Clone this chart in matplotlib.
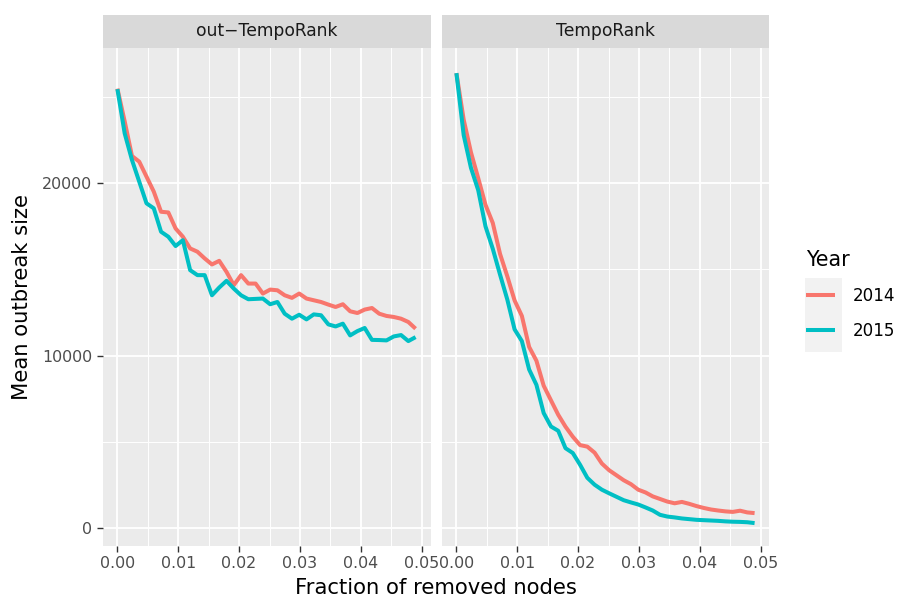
import matplotlib.pyplot as plt
import numpy as np
from matplotlib.lines import Line2D
from matplotlib.patches import Rectangle

plt.rcParams['font.family'] = ['DejaVu Sans']

# fraction of removed nodes (42 steps up to 0.049)
frac = np.linspace(0, 0.049, 42)

panels = ['out\u2212TempoRank', 'TempoRank']
years = ['2014', '2015']
colors = ['#F8766D', '#00BFC4']

out_2014 = [25500, 23600, 21590, 21260, 20390, 19520, 18350, 18310, 17380, 16900,
            16220, 16030, 15640, 15290, 15500, 14860, 14090, 14670, 14180, 14180,
            13600, 13830, 13790, 13500, 13350, 13600, 13310, 13210, 13110, 12960,
            12820, 12980, 12570, 12470, 12670, 12760, 12430, 12300, 12240, 12140,
            11950, 11560]
out_2015 = [25470, 22900, 21360, 20100, 18840, 18550, 17190, 16900, 16360, 16700,
            14960, 14670, 14670, 13500, 13950, 14340, 13890, 13500, 13270, 13290,
            13310, 12980, 13110, 12430, 12140, 12370, 12100, 12390, 12340, 11810,
            11690, 11850, 11170, 11420, 11600, 10910, 10900, 10880, 11110, 11190,
            10840, 11070]
tr_2014 = [26400, 23700, 21800, 20300, 18750, 17700, 15900, 14600, 13200, 12300,
           10500, 9700, 8250, 7400, 6560, 5870, 5290, 4800, 4710, 4360,
           3730, 3340, 3050, 2760, 2530, 2210, 2050, 1820, 1670, 1520,
           1420, 1500, 1390, 1260, 1150, 1060, 1000, 950, 920, 990,
           890, 850]
tr_2015 = [26400, 22800, 20900, 19600, 17500, 16200, 14700, 13250, 11520, 10840,
           9190, 8300, 6660, 5880, 5630, 4620, 4340, 3660, 2900, 2500,
           2210, 2000, 1800, 1600, 1470, 1350, 1180, 1000, 750, 650,
           600, 540, 500, 460, 440, 420, 400, 370, 350, 340,
           320, 270]

data = {panels[0]: [out_2014, out_2015], panels[1]: [tr_2014, tr_2015]}

W, H = 902, 602
fig = plt.figure(figsize=(W / 100, H / 100), dpi=100)

pan_bottom, pan_top = 546, 48
strip_top = 15
lefts = [102.5, 441.5]
pw = 328

xticks = [0, 0.01, 0.02, 0.03, 0.04, 0.05]
xminor = [0.005, 0.015, 0.025, 0.035, 0.045]
yticks = [0, 10000, 20000]
yminor = [5000, 15000, 25000]

for k, name in enumerate(panels):
    ax = fig.add_axes([lefts[k] / W, 1 - pan_bottom / H, pw / W, (pan_bottom - pan_top) / H])
    ax.set_facecolor('#EBEBEB')
    for v in xminor:
        ax.axvline(v, color='white', lw=0.7, zorder=0)
    for v in yminor:
        ax.axhline(v, color='white', lw=0.7, zorder=0)
    for v in xticks:
        ax.axvline(v, color='white', lw=1.35, zorder=0)
    for v in yticks:
        ax.axhline(v, color='white', lw=1.35, zorder=0)
    for yr, col, vals in zip(years, colors, data[name]):
        ax.plot(frac, vals, color=col, lw=2.9, solid_capstyle='butt', solid_joinstyle='round')
    ax.set_xlim(-0.00245, 0.05145)
    ax.set_ylim(-1060, 27860)
    ax.set_xticks(xticks)
    ax.set_xticklabels(['0.00', '0.01', '0.02', '0.03', '0.04', '0.05'])
    ax.set_yticks(yticks)
    ax.set_yticklabels(['0', '10000', '20000'])
    for s in ax.spines.values():
        s.set_visible(False)
    ax.tick_params(length=4.5, width=1.0, color='#333333', labelcolor='#4D4D4D',
                   labelsize=11.4, pad=3)
    if k == 1:
        ax.tick_params(axis='y', left=False, labelleft=False)

    # facet strip
    sax = fig.add_axes([lefts[k] / W, 1 - pan_top / H, pw / W, (pan_top - strip_top) / H])
    sax.set_facecolor('#D9D9D9')
    sax.set_xticks([])
    sax.set_yticks([])
    for s in sax.spines.values():
        s.set_visible(False)
    sax.text(0.5, 0.5, name, ha='center', va='center', fontsize=12.3, color='#1A1A1A',
             transform=sax.transAxes)

fig.text((102.5 + 769.5) / 2 / W, 1 - 588 / H, 'Fraction of removed nodes',
         ha='center', va='center', fontsize=15.2)
fig.text(22 / W, 1 - 297 / H, 'Mean outbreak size', ha='center', va='center',
         rotation=90, fontsize=15.2)

# legend
fig.patches.append(Rectangle((805 / W, 1 - 352 / H), 37 / W, 74 / H,
                             transform=fig.transFigure, facecolor='#F2F2F2',
                             edgecolor='none', zorder=0))
handles = [Line2D([], [], color=c, lw=2.9, solid_capstyle='butt') for c in colors]
fig.legend(handles, years, title='Year', loc='upper left',
           bbox_to_anchor=(806 / W, 1 - 250 / H), frameon=False, fontsize=12.1,
           title_fontsize=14.9, handlelength=1.75, handletextpad=1.03,
           labelspacing=1.0, borderpad=0, borderaxespad=0, alignment='left')

fig.savefig('out.png', dpi=100)
